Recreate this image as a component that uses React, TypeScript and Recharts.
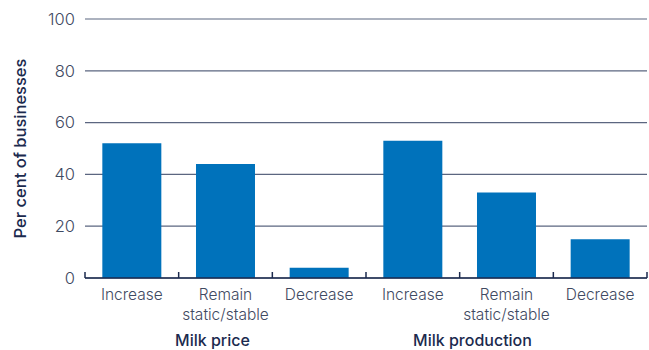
import { Bar, BarChart, CartesianGrid, XAxis, YAxis } from "recharts";

const categories = [
  "Increase",
  "Remain\nstatic/stable",
  "Decrease",
  "Increase",
  "Remain\nstatic/stable",
  "Decrease",
];
const groups = [
  "Milk price",
  "Milk price",
  "Milk price",
  "Milk production",
  "Milk production",
  "Milk production",
];
const values = [52, 44, 4, 53, 33, 15];
const yTicks = [0, 20, 40, 60, 80, 100];

const data = categories.map((c, i) => ({
  idx: i,
  label: c,
  group: groups[i],
  value: values[i],
}));
const boundaries = categories.map((_, i) => i).concat(categories.length);

const FONT = "Inter, 'Open Sans', sans-serif";
const NAVY = "#1b2a4e";
const GREY = "#3f4a62";

// eslint-disable-next-line @typescript-eslint/no-explicit-any
function CategoryTick({ x, y, payload }: any) {
  const lines = String(payload.value).split("\n");
  return (
    <text x={x} y={y} textAnchor="middle" fill={GREY} fontSize={15.5} fontFamily={FONT} fontWeight={300}>
      {lines.map((l, i) => (
        <tspan key={i} x={x} dy={i === 0 ? "0.71em" : 20}>
          {l}
        </tspan>
      ))}
    </text>
  );
}

// eslint-disable-next-line @typescript-eslint/no-explicit-any
function GroupTick({ x, y, payload }: any) {
  // the source labels sit a little left of their group centres
  const shift = payload.index === 0 ? -13 : -34;
  return (
    <text x={x + shift} y={y} dy="0.71em" textAnchor="middle" fill={NAVY} fontSize={16} fontFamily={FONT} fontWeight={500}>
      {payload.value}
    </text>
  );
}

const NoTick = () => <g />;

export default function App() {
  return (
    <div style={{ position: "absolute", left: 0, top: 0, background: "#fff" }}>
      <BarChart
        width={649}
        height={350}
        data={data}
        margin={{ top: 19, right: 2, bottom: 0, left: 0 }}
        barCategoryGap="18.5%"
      >
        <CartesianGrid xAxisId="b" vertical={false} stroke="#5b6680" strokeWidth={1.2} />
        <XAxis
          xAxisId="a"
          type="number"
          dataKey="idx"
          domain={[0, categories.length]}
          allowDataOverflow
          ticks={boundaries}
          interval={0}
          tick={NoTick}
          height={1}
          tickSize={-6}
          tickLine={{ stroke: NAVY, strokeWidth: 1.5 }}
          axisLine={{ stroke: NAVY, strokeWidth: 1.5 }}
        />
        <XAxis
          xAxisId="b"
          dataKey="label"
          axisLine={false}
          tickLine={false}
          height={43}
          tickMargin={4}
          interval={0}
          tick={<CategoryTick />}
        />
        <XAxis
          xAxisId="c"
          dataKey="group"
          allowDuplicatedCategory={false}
          axisLine={false}
          tickLine={false}
          height={28}
          tickMargin={7}
          interval={0}
          tick={<GroupTick />}
        />
        <YAxis
          domain={[0, 100]}
          ticks={yTicks}
          width={85}
          axisLine={false}
          tickLine={false}
          tickMargin={4}
          tick={{ fill: GREY, fontSize: 16.5, fontFamily: FONT, fontWeight: 300 }}
          label={{
            value: "Per cent of businesses",
            angle: -90,
            position: "insideLeft",
            offset: 20,
            style: { textAnchor: "middle", fill: NAVY, fontSize: 16.5, fontFamily: FONT, fontWeight: 500 },
          }}
        />
        <Bar xAxisId="b" dataKey="value" fill="#0072bb" isAnimationActive={false} />
      </BarChart>
    </div>
  );
}
